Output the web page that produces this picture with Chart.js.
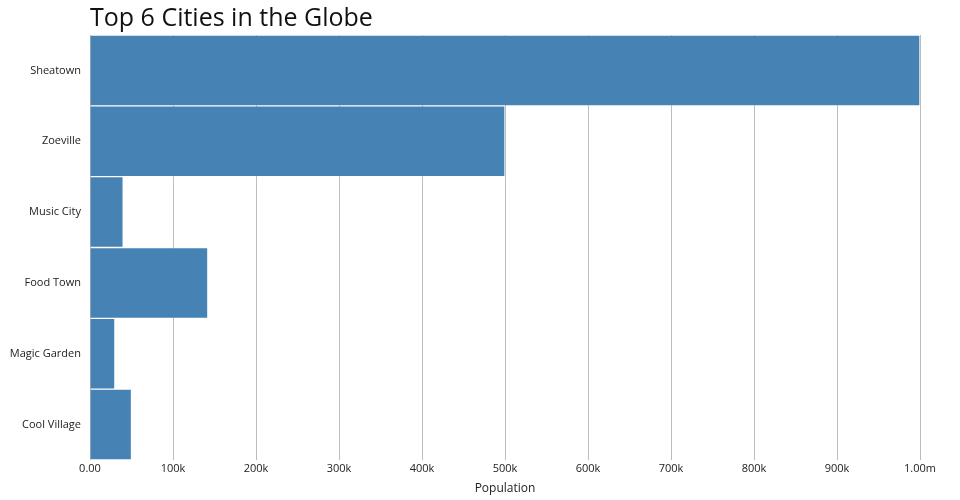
<!DOCTYPE html>
<html>
<head>
<meta charset="utf-8">
<script src="https://cdn.jsdelivr.net/npm/chart.js@4"></script>
<style>
  html, body { margin: 0; padding: 0; background: #fff; }
  #wrap { width: 960px; height: 500px; position: relative; }
</style>
</head>
<body>
<div id="wrap"><canvas id="c" width="960" height="500"></canvas></div>
<script>
const chartTitle = 'Top 6 Cities in the Globe';
const cities = ['Sheatown', 'Zoeville', 'Music City', 'Food Town', 'Magic Garden', 'Cool Village'];
const population = [1000000, 500000, 40000, 142000, 30000, 50000];
const tickValues = [0, 100000, 200000, 300000, 400000, 500000, 600000, 700000, 800000, 900000, 1000000];
const tickLabels = ['0.00', '100k', '200k', '300k', '400k', '500k', '600k', '700k', '800k', '900k', '1.00m'];
const axisTitle = 'Population';

const titlePlugin = {
  id: 'leftTitle',
  afterDraw(chart) {
    const ctx = chart.ctx;
    ctx.save();
    ctx.font = '25px "Open Sans"';
    ctx.fillStyle = '#111';
    ctx.textAlign = 'left';
    ctx.textBaseline = 'alphabetic';
    ctx.fillText(chartTitle, chart.chartArea.left, 26);
    ctx.restore();
  }
};

new Chart(document.getElementById('c'), {
  type: 'bar',
  data: {
    labels: cities,
    datasets: [{
      data: population,
      backgroundColor: '#4682b4',
      borderColor: 'rgba(255,255,255,0.18)',
      borderWidth: 1,
      barPercentage: 1,
      categoryPercentage: 1
    }]
  },
  options: {
    indexAxis: 'y',
    responsive: false,
    animation: false,
    layout: { padding: { left: 0, right: 40, top: 35, bottom: 0 } },
    plugins: { legend: { display: false }, tooltip: { enabled: false } },
    scales: {
      x: {
        min: 0,
        max: 1000000,
        afterBuildTicks(scale) { scale.ticks = tickValues.map(v => ({ value: v })); },
        afterFit(scale) { scale.height = 40; },
        border: { display: false },
        grid: { color: '#bdbdbd', drawTicks: false, lineWidth: 1 },
        ticks: {
          padding: 2,
          color: '#222',
          font: { family: '"Open Sans"', size: 11 },
          maxRotation: 0,
          callback: (v) => { const i = tickValues.indexOf(v); return i >= 0 ? tickLabels[i] : ''; }
        },
        title: {
          display: true,
          text: axisTitle,
          color: '#222',
          font: { family: '"Open Sans"', size: 12 },
          padding: { top: 0, bottom: 4 }
        }
      },
      y: {
        afterFit(scale) { scale.width = 90; },
        border: { display: false },
        grid: { display: false, drawTicks: false },
        ticks: {
          padding: 9,
          color: '#222',
          font: { family: '"Open Sans"', size: 11 }
        }
      }
    }
  },
  plugins: [titlePlugin]
});
</script>
</body>
</html>
